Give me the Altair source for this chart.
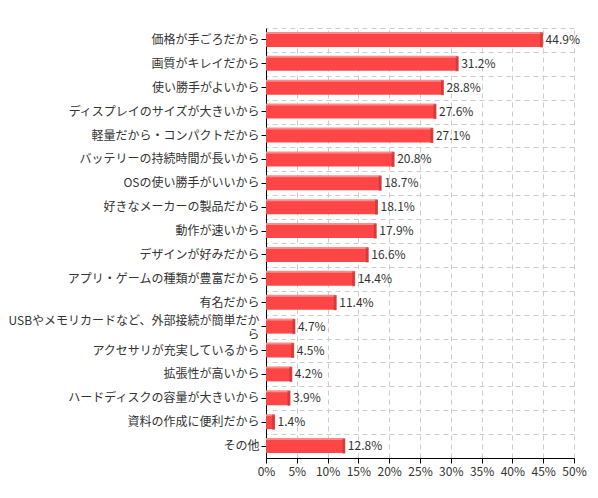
import pandas as pd
import altair as alt

# Reasons and share of respondents (%)
REASONS = [
    "価格が手ごろだから",
    "画質がキレイだから",
    "使い勝手がよいから",
    "ディスプレイのサイズが大きいから",
    "軽量だから・コンパクトだから",
    "バッテリーの持続時間が長いから",
    "OSの使い勝手がいいから",
    "好きなメーカーの製品だから",
    "動作が速いから",
    "デザインが好みだから",
    "アプリ・ゲームの種類が豊富だから",
    "有名だから",
    "USBやメモリカードなど、外部接続が簡単だから",
    "アクセサリが充実しているから",
    "拡張性が高いから",
    "ハードディスクの容量が大きいから",
    "資料の作成に便利だから",
    "その他",
]
SHARES = [44.9, 31.2, 28.8, 27.6, 27.1, 20.8, 18.7, 18.1, 17.9, 16.6,
          14.4, 11.4, 4.7, 4.5, 4.2, 3.9, 1.4, 12.8]
X_TICKS = [0, 5, 10, 15, 20, 25, 30, 35, 40, 45, 50]

FONT = "Noto Sans CJK JP"
RED = "#ff4646"
RED_LIGHT = "#ff8a8a"
RED_DARK = "#c83232"
TEXT = "#333333"
GRID = "#cccccc"

df = pd.DataFrame({"reason": REASONS, "share": SHARES})
df["label"] = df["share"].map(lambda v: f"{v:.1f}%")

# same x encoding for every layer so the merged axis keeps its settings
x_enc = alt.X("share:Q",
              scale=alt.Scale(domain=[0, 50], nice=False),
              axis=alt.Axis(values=X_TICKS, labelExpr="datum.value + '%'",
                            title=None, grid=True, gridColor=GRID,
                            gridDash=[5, 4], domainColor="#000",
                            tickColor="#000", tickSize=5, labelColor=TEXT,
                            labelFontSize=12, labelFont=FONT, labelPadding=3,
                            labelOverlap=False, labelFlush=False))

WRAP = "length(datum.label) > 22"
y_main = alt.Y("reason:N", sort=None,
               scale=alt.Scale(paddingInner=0, paddingOuter=0),
               axis=alt.Axis(title=None, grid=False, domainColor="#000",
                             tickColor="#000", tickSize=5, labelColor=TEXT,
                             labelFontSize=12, labelFont=FONT, labelPadding=2,
                             labelLimit=300, labelLineHeight=14,
                             labelOffset={"condition": {"test": WRAP, "value": -6},
                                          "value": 0},
                             labelExpr=WRAP + " ? [substring(datum.label, 0, 22), substring(datum.label, 22)] : datum.label"))

# second y axis only to draw the horizontal grid on the band edges
y_grid = alt.Y("reason:N", sort=None,
               axis=alt.Axis(title=None, orient="right", grid=True,
                             tickBand="extent", gridColor=GRID,
                             gridDash=[5, 4], labels=False, ticks=False,
                             domain=False))
y_plain = alt.Y("reason:N", sort=None, axis=None)

base = alt.Chart(df)

bars = base.mark_bar(color=RED, size=14).encode(x=x_enc, y=y_main)

top_face = base.mark_bar(color=RED_LIGHT, size=2, yOffset=-7).encode(
    x=x_enc, y=y_grid)

side_face = base.mark_tick(color=RED_DARK, thickness=3, size=15,
                           xOffset=-1, orient="vertical").encode(
    x=x_enc, y=y_plain)

values = base.mark_text(align="left", baseline="middle", dx=3, fontSize=12,
                        font=FONT, color=TEXT).encode(
    x=x_enc, y=y_plain, text="label:N")

chart = alt.layer(bars, top_face, side_face, values).resolve_axis(
    y="independent"
).properties(
    width=308,
    height=430,
    padding={"left": 258, "top": 20, "right": 14, "bottom": 30},
    autosize=alt.AutoSizeParams(type="none"),
    background="white",
).configure_view(stroke=None)

chart.save("out.html", embed_options={"renderer": "svg", "actions": False})
